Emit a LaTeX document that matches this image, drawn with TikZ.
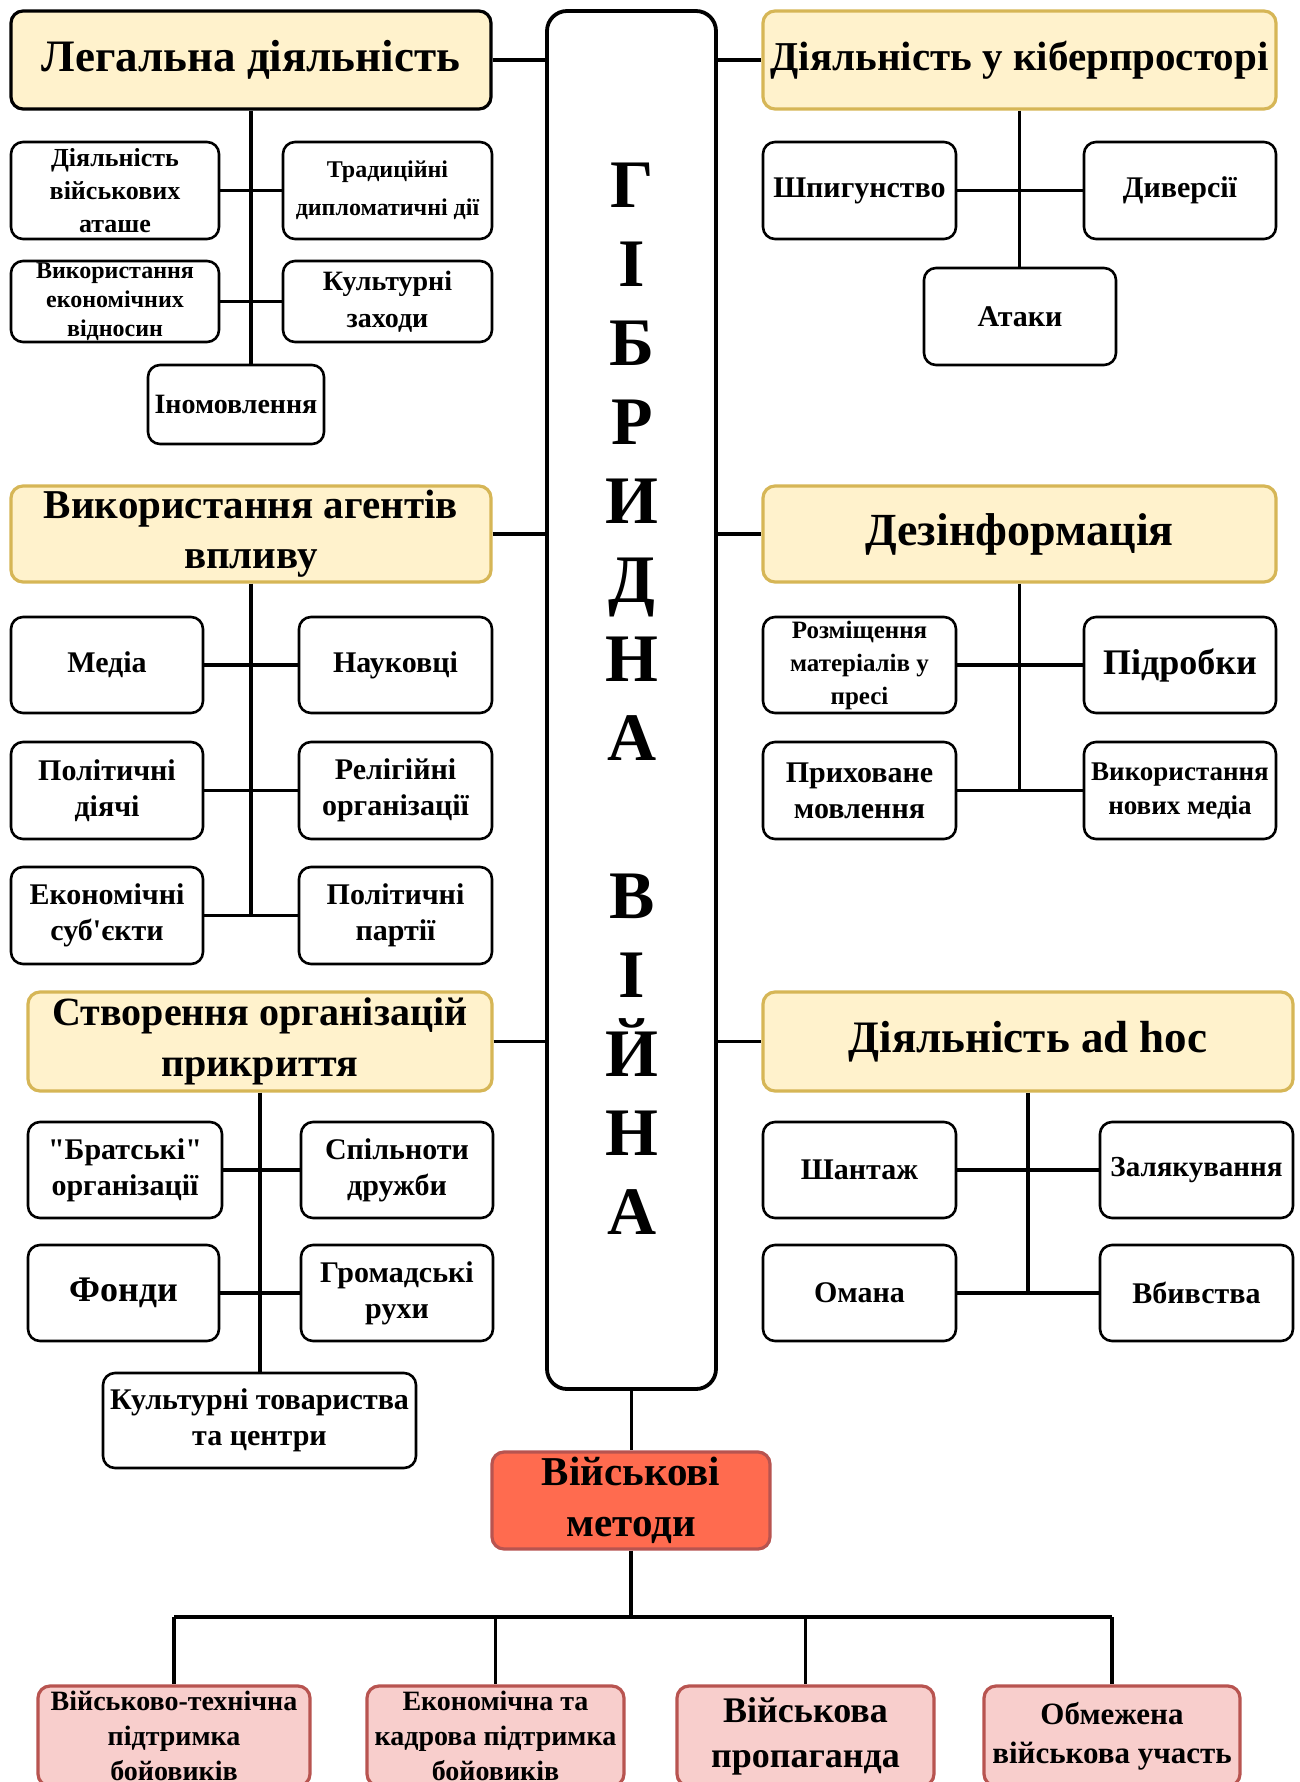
\documentclass[tikz,border=0pt]{standalone}
\usepackage{fontspec}
\setmainfont{Liberation Serif}
\definecolor{hdrfill}{HTML}{FFF2CC}
\definecolor{hdrdraw}{HTML}{D6B656}
\definecolor{milfill}{HTML}{FF6B4F}
\definecolor{mildraw}{HTML}{B85450}
\definecolor{subfill}{HTML}{F8CECC}
\newcommand\bx[7]{\node[#6, minimum width={(#4-#2)*0.5pt}, minimum height={(#5-#3)*0.5pt}] (#1) at ({(#2+#4)/2},{(#3+#5)/2}) {#7};}
\begin{document}
\begin{tikzpicture}[x=0.5pt,y=-0.5pt,
  hf/.style 2 args={font=\fontsize{#1}{#2}\selectfont\bfseries},
  cf/.style 2 args={font=\fontsize{#1}{#2}\selectfont\bfseries},
  hdr/.style={draw=hdrdraw, fill=hdrfill, line width=1.6pt, rounded corners=6pt, align=center, inner sep=0pt},
  child/.style={draw=black, fill=white, line width=1.3pt, rounded corners=6pt, align=center, inner sep=0pt, cf={15}{18}},
  central/.style={draw=black, line width=1.9pt, rounded corners=10pt},
  milbox/.style={draw=mildraw, fill=milfill, line width=1.6pt, rounded corners=6pt, align=center, inner sep=0pt},
  subbox/.style={draw=mildraw, fill=subfill, line width=1.6pt, rounded corners=6pt, align=center, inner sep=0pt},
  conn/.style={line width=1.7pt},
  bus/.style={line width=2.4pt},
  letter/.style={font=\fontsize{34}{34}\selectfont\bfseries, anchor=base, inner sep=0pt}]
\useasboundingbox (0,0) rectangle (1300,1782);
\clip (0,0) rectangle (1300,1782);
\fill[white] (0,0) rectangle (1300,1782);

% central box
\bx{hyb}{547}{11}{716}{1389}{central}{}
\foreach \L [count=\i] in {Г,І,Б,Р,И,Д,Н,А}
  \node[letter] (la\i) at (632,{185+79*(\i-1)+22}) {\L};
\foreach \L [count=\i] in {В,І,Й,Н,А}
  \node[letter] (lb\i) at (632,{896+79*(\i-1)+22}) {\L};

% Legal activity
\bx{leg}{11}{11}{491}{109}{hdr, draw=black, hf={22.5}{27}}{Легальна діяльність}
\bx{att}{11}{142}{219}{239}{child, cf={13}{16.5}}{Діяльність\\військових\\аташе}
\bx{trad}{283}{142}{492}{239}{child, cf={12}{19}}{Традиційні\\дипломатичні дії}
\bx{eco}{11}{261}{219}{342}{child, cf={12}{14.5}}{Використання\\економічних\\відносин}
\bx{cult}{283}{261}{492}{342}{child, cf={14}{18.5}}{Культурні\\заходи}
\bx{ino}{148}{365}{324}{444}{child, cf={14}{17}}{Іномовлення}

% Agents of influence
\bx{agt}{11}{486}{491}{582}{hdr, hf={20.5}{25}}{Використання агентів\\впливу}
\bx{media}{11}{617}{203}{713}{child}{Медіа}
\bx{nauk}{299}{617}{492}{713}{child}{Науковці}
\bx{poly}{11}{742}{203}{839}{child}{Політичні\\діячі}
\bx{rel}{299}{742}{492}{839}{child}{Релігійні\\організації}
\bx{ekos}{11}{867}{203}{964}{child}{Економічні\\суб\textquotesingle єкти}
\bx{part}{299}{867}{492}{964}{child}{Політичні\\партії}

% Cover organisations
\bx{cov}{28}{992}{492}{1091}{hdr, hf={20}{25.5}}{Створення організацій\\прикриття}
\bx{brat}{28}{1122}{222}{1218}{child}{\textquotedbl Братські\textquotedbl\\організації}
\bx{spil}{301}{1122}{493}{1218}{child}{Спільноти\\дружби}
\bx{fond}{28}{1245}{219}{1341}{child, cf={18}{20}}{Фонди}
\bx{grom}{301}{1245}{493}{1341}{child}{Громадські\\рухи}
\bx{kult}{103}{1373}{416}{1468}{child}{Культурні товариства\\та центри}

% Cyberspace
\bx{cyb}{763}{11}{1276}{109}{hdr, hf={20.5}{26}}{Діяльність у кіберпросторі}
\bx{shp}{763}{142}{956}{239}{child}{Шпигунство}
\bx{div}{1084}{142}{1276}{239}{child}{Диверсії}
\bx{atak}{924}{268}{1116}{365}{child}{Атаки}

% Disinformation
\bx{dez}{763}{486}{1276}{582}{hdr, hf={23}{28}}{Дезінформація}
\bx{rozm}{763}{617}{956}{713}{child, cf={12.5}{16.5}}{Розміщення\\матеріалів у\\пресі}
\bx{pidr}{1084}{617}{1276}{713}{child, cf={18}{20}}{Підробки}
\bx{prykh}{763}{742}{956}{839}{child}{Приховане\\мовлення}
\bx{vykn}{1084}{742}{1276}{839}{child, cf={13.5}{17}}{Використання\\нових медіа}

% Ad hoc
\bx{adh}{763}{992}{1293}{1091}{hdr, hf={22.5}{28}}{Діяльність ad hoc}
\bx{shan}{763}{1122}{956}{1218}{child}{Шантаж}
\bx{zal}{1100}{1122}{1293}{1218}{child, cf={14.5}{17}}{Залякування}
\bx{oman}{763}{1245}{956}{1341}{child}{Омана}
\bx{vbyv}{1100}{1245}{1293}{1341}{child}{Вбивства}

% Military
\bx{mil}{492}{1452}{770}{1549}{milbox, hf={20.5}{25.5}}{Військові\\методи}
\bx{s1}{38}{1686}{310}{1786}{subbox, hf={14}{17.5}}{Військово-технічна\\підтримка\\бойовиків}
\bx{s2}{367}{1686}{624}{1786}{subbox, hf={14}{17.5}}{Економічна та\\кадрова підтримка\\бойовиків}
\bx{s3}{677}{1686}{934}{1786}{subbox, hf={18}{22.5}}{Військова\\пропаганда}
\bx{s4}{984}{1686}{1240}{1786}{subbox, hf={15.5}{19.5}}{Обмежена\\військова участь}

% connectors: left
\draw[conn] (leg.east) -- (leg.east -| hyb.west);
\draw[conn] (leg.south) -- (leg.south |- ino.north);
\draw[conn] (att.east) -- (trad.west);
\draw[conn] (eco.east) -- (cult.west);

\draw[conn] (agt.east) -- (agt.east -| hyb.west);
\draw[conn] (agt.south) -- (agt.south |- ekos.east);
\draw[conn] (media.east) -- (nauk.west);
\draw[conn] (poly.east) -- (rel.west);
\draw[conn] (ekos.east) -- (part.west);

\draw[conn] (cov.east) -- (cov.east -| hyb.west);
\draw[conn] (cov.south) -- (cov.south |- kult.north);
\draw[conn] (brat.east) -- (spil.west);
\draw[conn] (fond.east) -- (grom.west);

% connectors: right
\draw[conn] (hyb.east |- cyb.west) -- (cyb.west);
\draw[conn] (cyb.south) -- (cyb.south |- atak.north);
\draw[conn] (shp.east) -- (div.west);

\draw[conn] (hyb.east |- dez.west) -- (dez.west);
\draw[conn] (dez.south) -- (dez.south |- prykh.east);
\draw[conn] (rozm.east) -- (pidr.west);
\draw[conn] (prykh.east) -- (vykn.west);

\draw[conn] (hyb.east |- adh.west) -- (adh.west);
\draw[conn] (adh.south) -- (adh.south |- oman.east);
\draw[conn] (shan.east) -- (zal.west);
\draw[conn] (oman.east) -- (vbyv.west);

% connectors: military
\coordinate (busc) at (631,1617);
\draw[conn] (hyb.south) -- (hyb.south |- mil.north);
\draw[conn] (mil.south) -- (mil.south |- busc);
\draw[bus] (s1.north |- busc) -- (s4.north |- busc);
\foreach \s in {s1,s2,s3,s4}
  \draw[conn] (\s.north |- busc) -- (\s.north);
\end{tikzpicture}
\end{document}
